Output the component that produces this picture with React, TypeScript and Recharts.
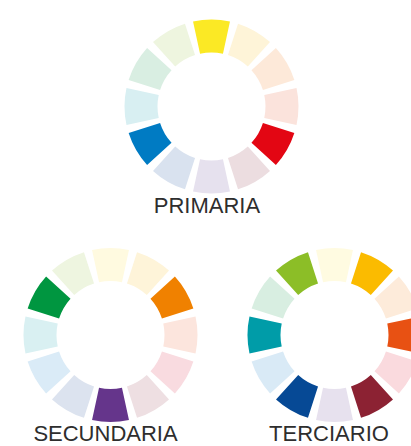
import { PieChart, Pie, Cell } from "recharts";

// 12 equal segments per wheel, clockwise starting at the top
const segmentValues = [1, 1, 1, 1, 1, 1, 1, 1, 1, 1, 1, 1];

const wheelNames = ["PRIMARIA", "SECUNDARIA", "TERCIARIO"];

const primaryColors = [
  "#fbe925", "#fef4d8", "#fde9d9", "#fbe3dc", "#e30613", "#ecdde0",
  "#e6e1ee", "#d9e2ef", "#007bc3", "#d8eff2", "#d9eee2", "#eef5df",
];
const secondaryColors = [
  "#fffae0", "#fef4d9", "#f08100", "#fce5dd", "#f9dbe0", "#eedfe2",
  "#65358b", "#dce3ef", "#daebf7", "#d9f0f2", "#009640", "#eef5e0",
];
const tertiaryColors = [
  "#fffbe1", "#fbbb00", "#fdebda", "#e85113", "#fadade", "#8c2233",
  "#e7e1ee", "#064995", "#d9eaf6", "#009ca8", "#d8eee1", "#8cbe27",
];

const wheels = [
  { name: wheelNames[0], colors: primaryColors, cx: 206.5, cy: 101.5 },
  { name: wheelNames[1], colors: secondaryColors, cx: 105.5, cy: 330 },
  { name: wheelNames[2], colors: tertiaryColors, cx: 329.5, cy: 330 },
];

const PAD = 5.5;

export default function App() {
  return (
    <div style={{ position: "absolute", left: 0, top: 0, width: 411, height: 446, background: "#fff" }}>
      <PieChart width={411} height={446}>
        {wheels.map((w) => (
          <Pie
            key={w.name}
            data={segmentValues.map((v, i) => ({ name: `${w.name}-${i}`, value: v }))}
            dataKey="value"
            cx={w.cx}
            cy={w.cy}
            innerRadius={54}
            outerRadius={87}
            startAngle={105 - PAD / 2}
            endAngle={105 - PAD / 2 - 360}
            paddingAngle={PAD}
            stroke="none"
            isAnimationActive={false}
          >
            {w.colors.map((c, i) => (
              <Cell key={i} fill={c} />
            ))}
          </Pie>
        ))}
      </PieChart>
      <svg width={411} height={446} style={{ position: "absolute", left: 0, top: 0, pointerEvents: "none" }}>
        <g fontFamily="'Liberation Sans', Arial, sans-serif" fontSize={22} fill="#2e2e2e" textAnchor="middle">
          <text x={207} y={213}>{wheelNames[0]}</text>
          <text x={105.5} y={441}>{wheelNames[1]}</text>
          <text x={329} y={441}>{wheelNames[2]}</text>
        </g>
      </svg>
    </div>
  );
}
